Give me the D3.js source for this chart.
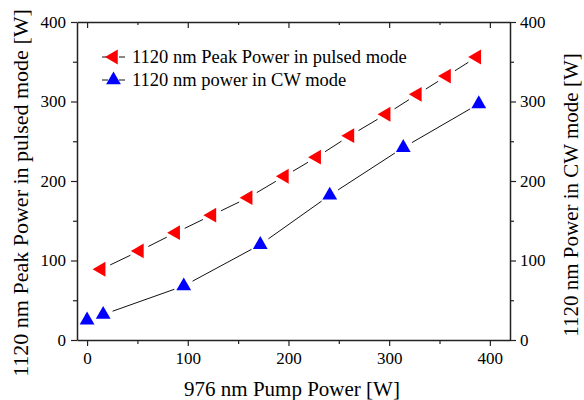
<!DOCTYPE html>
<html><head><meta charset="utf-8">
<script src="https://cdn.jsdelivr.net/npm/d3@7"></script>
<style>body{margin:0;background:#fff}svg{display:block}</style>
</head><body><svg id="c" width="584" height="400"></svg>
<script>
const pulsedX = [14, 52, 88, 124, 160, 196, 228, 261, 297, 328, 357, 387];
const pulsedY = [89, 112, 135, 157, 179, 206, 230, 257, 284, 309, 332, 356];
const cwX = [0, 16, 96, 172, 241, 314, 389];
const cwY = [25, 32, 68, 120, 182, 242, 297];
const xTicks = [0, 100, 200, 300, 400];
const yTicks = [0, 100, 200, 300, 400];
const legendLabels = ["1120 nm Peak Power in pulsed mode", "1120 nm power in CW mode"];
const xTitle = "976 nm Pump Power [W]";
const yLeftTitle = "1120 nm Peak Power in pulsed mode [W]";
const yRightTitle = "1120 nm Power in CW mode [W]";

const FONT = '"Liberation Serif", "Times New Roman", Tinos, serif';
const svg = d3.select("#c");
const L = 77, R = 510, T = 22, B = 340;
const x = d3.scaleLinear().domain([-10, 420]).range([L, R]);
const yL = d3.scaleLinear().domain([0, 400]).range([B, T]);
const yR = d3.scaleLinear().domain([0, 400]).range([B, T]);
const axisColor = "#222";

function styleAxis(g){
  g.attr("font-family", null).attr("font-size", null);
  g.selectAll("path.domain").attr("stroke", axisColor).attr("stroke-width", 1.5);
  g.selectAll(".tick line").attr("stroke", axisColor).attr("stroke-width", 1.2);
  g.selectAll("text").style("font-family", FONT).style("font-size", "17px").attr("fill", "#000");
}
function minorStyle(g){
  g.select(".domain").remove();
  g.selectAll("line").attr("stroke", axisColor).attr("stroke-width", 1.2);
}

const xMinor = d3.range(50, 420, 100);
const yMinor = d3.range(50, 400, 100);

// bottom
const gB = svg.append("g").attr("transform", `translate(0,${B})`)
  .call(d3.axisBottom(x).tickValues(xTicks).tickSize(6).tickSizeOuter(0).tickPadding(6).tickFormat(d3.format("d")));
styleAxis(gB);
svg.append("g").attr("transform", `translate(0,${B})`)
  .call(d3.axisBottom(x).tickValues(xMinor).tickSize(4).tickSizeOuter(0).tickFormat("")).call(minorStyle);
// top (inward ticks)
const gT = svg.append("g").attr("transform", `translate(0,${T})`)
  .call(d3.axisBottom(x).tickValues(xTicks).tickSize(6).tickSizeOuter(0).tickFormat(""));
styleAxis(gT);
svg.append("g").attr("transform", `translate(0,${T})`)
  .call(d3.axisBottom(x).tickValues(xMinor).tickSize(3).tickSizeOuter(0).tickFormat("")).call(minorStyle);
// left
const gL = svg.append("g").attr("transform", `translate(${L},0)`)
  .call(d3.axisLeft(yL).tickValues(yTicks).tickSize(6).tickSizeOuter(0).tickPadding(5).tickFormat(d3.format("d")));
styleAxis(gL);
svg.append("g").attr("transform", `translate(${L},0)`)
  .call(d3.axisLeft(yL).tickValues(yMinor).tickSize(4).tickSizeOuter(0).tickFormat("")).call(minorStyle);
// right
const gR = svg.append("g").attr("transform", `translate(${R},0)`)
  .call(d3.axisRight(yR).tickValues(yTicks).tickSize(6).tickSizeOuter(0).tickPadding(4).tickFormat(d3.format("d")));
styleAxis(gR);
svg.append("g").attr("transform", `translate(${R},0)`)
  .call(d3.axisRight(yR).tickValues(yMinor).tickSize(4).tickSizeOuter(0).tickFormat("")).call(minorStyle);

// gapped connecting segments
function gappedLine(pts, gap){
  const g = svg.append("g");
  for (let i=0;i<pts.length-1;i++){
    const [x1,y1]=pts[i],[x2,y2]=pts[i+1];
    const dx=x2-x1, dy=y2-y1, len=Math.hypot(dx,dy);
    if (len <= 2*gap) continue;
    const ux=dx/len, uy=dy/len;
    g.append("line").attr("x1",x1+ux*gap).attr("y1",y1+uy*gap)
      .attr("x2",x2-ux*gap).attr("y2",y2-uy*gap)
      .attr("stroke","#111").attr("stroke-width",1);
  }
}
const pPts = pulsedX.map((v,i)=>[x(v), yL(pulsedY[i])]);
const cPts = cwX.map((v,i)=>[x(v), yR(cwY[i])]);
gappedLine(pPts, 10);
gappedLine(cPts, 10);

const tri = d3.symbol().type(d3.symbolTriangle).size(95);
svg.append("g").selectAll("path").data(pPts).join("path")
  .attr("d", tri()).attr("transform", d=>`translate(${d[0]},${d[1]}) rotate(-90)`).attr("fill", "#ff0000");
svg.append("g").selectAll("path").data(cPts).join("path")
  .attr("d", tri()).attr("transform", d=>`translate(${d[0]},${d[1]})`).attr("fill", "#0000ff");

// legend
const leg = svg.append("g");
const legY = [57, 80];
[0,1].forEach(i=>{
  leg.append("line").attr("x1",102).attr("x2",108).attr("y1",legY[i]).attr("y2",legY[i]).attr("stroke","#111").attr("stroke-width",1);
  leg.append("line").attr("x1",119).attr("x2",125).attr("y1",legY[i]).attr("y2",legY[i]).attr("stroke","#111").attr("stroke-width",1);
  leg.append("path").attr("d", tri())
    .attr("transform", `translate(113.5,${legY[i]})` + (i===0?" rotate(-90)":""))
    .attr("fill", i===0?"#ff0000":"#0000ff");
  leg.append("text").attr("x",132).attr("y",legY[i]).attr("dy","0.35em")
    .style("font-family", FONT).style("font-size","18.5px").attr("fill","#000").text(legendLabels[i]);
});

// titles
svg.append("text").attr("x", 292).attr("y", 396).attr("text-anchor","middle")
  .style("font-family", FONT).style("font-size","21px").attr("fill","#000").text(xTitle);
svg.append("text").attr("transform", `translate(28,193) rotate(-90)`).attr("text-anchor","middle")
  .style("font-family", FONT).style("font-size","22px").attr("fill","#000").text(yLeftTitle);
svg.append("text").attr("transform", `translate(578,195) rotate(-90)`).attr("text-anchor","middle")
  .style("font-family", FONT).style("font-size","21px").attr("fill","#000").text(yRightTitle);
</script></body></html>
